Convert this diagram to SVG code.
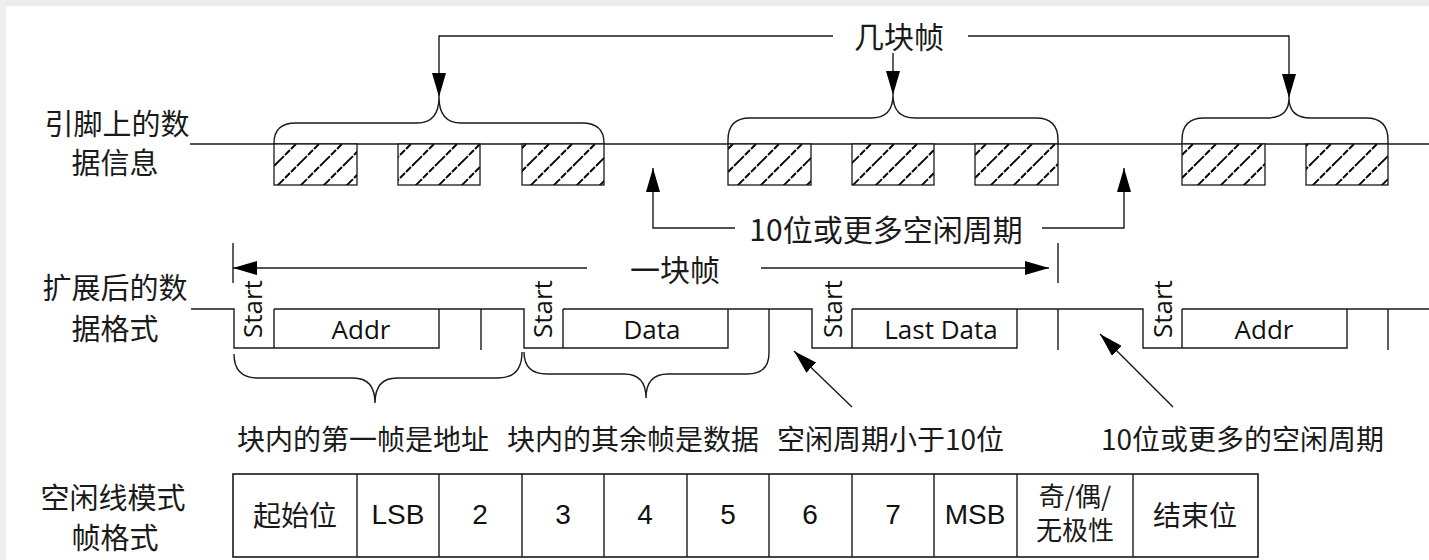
<svg xmlns="http://www.w3.org/2000/svg" width="1429" height="560" viewBox="0 0 1429 560">
<style>
.ln{fill:none;stroke:#1a1a1a;stroke-width:1.4}
.cj{font-family:"Noto Sans CJK SC","Noto Sans",sans-serif;fill:#1a1a1a}
.lat{font-family:"Open Sans","Noto Sans",sans-serif;font-size:26px;fill:#111}
.tb{font-family:"Liberation Sans",Arial,sans-serif;font-size:28px;fill:#111}
.hb{fill:url(#hatch);stroke:#1a1a1a;stroke-width:1.3}
</style>
<defs>
<marker id="ah" viewBox="0 0 24 14" markerWidth="24" markerHeight="14" refX="24" refY="7" orient="auto" markerUnits="userSpaceOnUse">
<path d="M0,0 L24,7 L0,14 z" fill="#000"/>
</marker>
<pattern id="hatch" patternUnits="userSpaceOnUse" width="23" height="23" x="3" y="0">
<rect width="23" height="23" fill="#fff"/>
<path d="M-3,3 L3,-3 M0,23 L23,0 M20,26 L26,20" stroke="#000" stroke-width="1.9" stroke-dasharray="7 1.5"/>
</pattern>
</defs>
<rect width="1429" height="560" fill="#ffffff"/>
<rect width="1429" height="6" fill="#ececec"/>
<rect width="6" height="560" fill="#efefef"/>

<g id="labels">
<text class="cj" font-size="29" x="117" y="122" text-anchor="middle" dominant-baseline="central">引脚上的数</text>
<text class="cj" font-size="29" x="115" y="161" text-anchor="middle" dominant-baseline="central">据信息</text>
<text class="cj" font-size="29" x="115" y="286" text-anchor="middle" dominant-baseline="central">扩展后的数</text>
<text class="cj" font-size="29" x="115" y="327" text-anchor="middle" dominant-baseline="central">据格式</text>
<text class="cj" font-size="29" x="113" y="496" text-anchor="middle" dominant-baseline="central">空闲线模式</text>
<text class="cj" font-size="29" x="115" y="536" text-anchor="middle" dominant-baseline="central">帧格式</text>
</g>

<g id="pin-line">
<line class="ln" x1="190" y1="144" x2="1429" y2="144"/>
</g>

<g id="frames-top">
<rect class="hb" x="274" y="144" width="83" height="41"/>
<rect class="hb" x="398" y="144" width="82" height="41"/>
<rect class="hb" x="522" y="144" width="82" height="41"/>
<rect class="hb" x="728" y="144" width="83" height="41"/>
<rect class="hb" x="852" y="144" width="82" height="41"/>
<rect class="hb" x="975" y="144" width="83" height="41"/>
<rect class="hb" x="1182" y="144" width="83" height="41"/>
<rect class="hb" x="1306" y="144" width="82" height="41"/>
</g>

<g id="braces-top">
<path class="ln" d="M274,144 L274,143 Q274,123 296,123 L417,123 Q439,123 439,97 Q439,123 461,123 L582,123 Q604,123 604,143 L604,144"/>
<path class="ln" d="M728,144 L728,140 Q728,118 750,118 L871,118 Q893,118 893,95 Q893,118 915,118 L1036,118 Q1058,118 1058,140 L1058,144"/>
<path class="ln" d="M1182,144 L1182,140 Q1182,118 1204,118 L1267,118 Q1289,118 1289,98 Q1289,118 1311,118 L1366,118 Q1388,118 1388,140 L1388,144"/>
</g>

<g id="title-top">
<text class="cj" font-size="30" x="899" y="35" text-anchor="middle" dominant-baseline="central">几块帧</text>
</g>

<g id="connectors">
<polyline class="ln" points="833,36 439,36 439,97" marker-end="url(#ah)"/>
<polyline class="ln" points="968,36 1289,36 1289,98" marker-end="url(#ah)"/>
<line class="ln" x1="893" y1="53" x2="893" y2="95" marker-end="url(#ah)"/>
<polyline class="ln" points="735,228 653,228 653,168" marker-end="url(#ah)"/>
<polyline class="ln" points="1042,228 1124,228 1124,168" marker-end="url(#ah)"/>
<line class="ln" x1="233" y1="243" x2="233" y2="283"/>
<line class="ln" x1="1058" y1="243" x2="1058" y2="283"/>
<line class="ln" x1="587" y1="268" x2="233" y2="268" marker-end="url(#ah)"/>
<line class="ln" x1="761" y1="268" x2="1049" y2="268" marker-end="url(#ah)"/>
<line class="ln" x1="852" y1="407" x2="794" y2="351" marker-end="url(#ah)"/>
<line class="ln" x1="1173" y1="407" x2="1100" y2="334" marker-end="url(#ah)"/>
</g>

<g id="idle-label">
<text class="cj" font-size="30" x="886" y="228" text-anchor="middle" dominant-baseline="central">10位或更多空闲周期</text>
</g>
<g id="block-label">
<text class="cj" font-size="30" x="675" y="268" text-anchor="middle" dominant-baseline="central">一块帧</text>
</g>

<g id="waveform">
<path class="ln" d="M191,309 L234,309 L234,348 L439,348 L439,309 M274,309 L274,348 M274,309 L524,309 L524,348 L728,348 L728,309 M563,309 L563,348 M563,309 L812,309 L812,348 L1017,348 L1017,309 M852,309 L852,348 M852,309 L1143,309 L1143,348 L1347,348 L1347,309 M1182,309 L1182,348 M1182,309 L1429,309"/>
<path class="ln" d="M481,309 L481,350 M1058,309 L1058,350 M1388,309 L1388,350"/>
</g>

<g id="field-text">
<text class="lat" transform="translate(262,338) rotate(-90)">Start</text>
<text class="lat" transform="translate(552,338) rotate(-90)">Start</text>
<text class="lat" transform="translate(842,338) rotate(-90)">Start</text>
<text class="lat" transform="translate(1172,338) rotate(-90)">Start</text>
<text class="lat" x="361" y="339" text-anchor="middle">Addr</text>
<text class="lat" x="652" y="339" text-anchor="middle">Data</text>
<text class="lat" x="941" y="339" text-anchor="middle">Last Data</text>
<text class="lat" x="1264" y="339" text-anchor="middle">Addr</text>
</g>

<g id="braces-bottom">
<path class="ln" d="M234,354 Q234,378 258,378 L353,378 Q375,378 375,403 Q375,378 397,378 L498,378 Q522,378 522,352"/>
<path class="ln" d="M524,352 Q524,374 547,374 L624,374 Q646,374 646,398 Q646,374 668,374 L747,374 Q769,374 769,353 L769,309"/>
</g>

<g id="bottom-texts">
<text class="cj" font-size="28" x="237" y="438" dominant-baseline="central">块内的第一帧是地址</text>
<text class="cj" font-size="28" x="507" y="438" dominant-baseline="central">块内的其余帧是数据</text>
<text class="cj" font-size="28" x="777" y="438" dominant-baseline="central">空闲周期小于10位</text>
<text class="cj" font-size="28" x="1384" y="438" text-anchor="end" dominant-baseline="central">10位或更多的空闲周期</text>
</g>

<g id="frame-table">
<rect x="233" y="474" width="1025" height="83" fill="none" stroke="#1a1a1a" stroke-width="1.6"/>
<path class="ln" d="M357,474 V557 M439,474 V557 M522,474 V557 M604,474 V557 M687,474 V557 M769,474 V557 M852,474 V557 M934,474 V557 M1017,474 V557 M1133,474 V557"/>
<text class="cj" font-size="28" x="295" y="514" text-anchor="middle" dominant-baseline="central">起始位</text>
<text class="tb" x="398" y="524" text-anchor="middle">LSB</text>
<text class="tb" x="480" y="524" text-anchor="middle">2</text>
<text class="tb" x="563" y="524" text-anchor="middle">3</text>
<text class="tb" x="645" y="524" text-anchor="middle">4</text>
<text class="tb" x="728" y="524" text-anchor="middle">5</text>
<text class="tb" x="810" y="524" text-anchor="middle">6</text>
<text class="tb" x="893" y="524" text-anchor="middle">7</text>
<text class="tb" x="975" y="524" text-anchor="middle">MSB</text>
<text class="cj" font-size="26" x="1075" y="494" text-anchor="middle" dominant-baseline="central">奇/偶/</text>
<text class="cj" font-size="26" x="1075" y="528" text-anchor="middle" dominant-baseline="central">无极性</text>
<text class="cj" font-size="28" x="1195" y="514" text-anchor="middle" dominant-baseline="central">结束位</text>
</g>
</svg>
